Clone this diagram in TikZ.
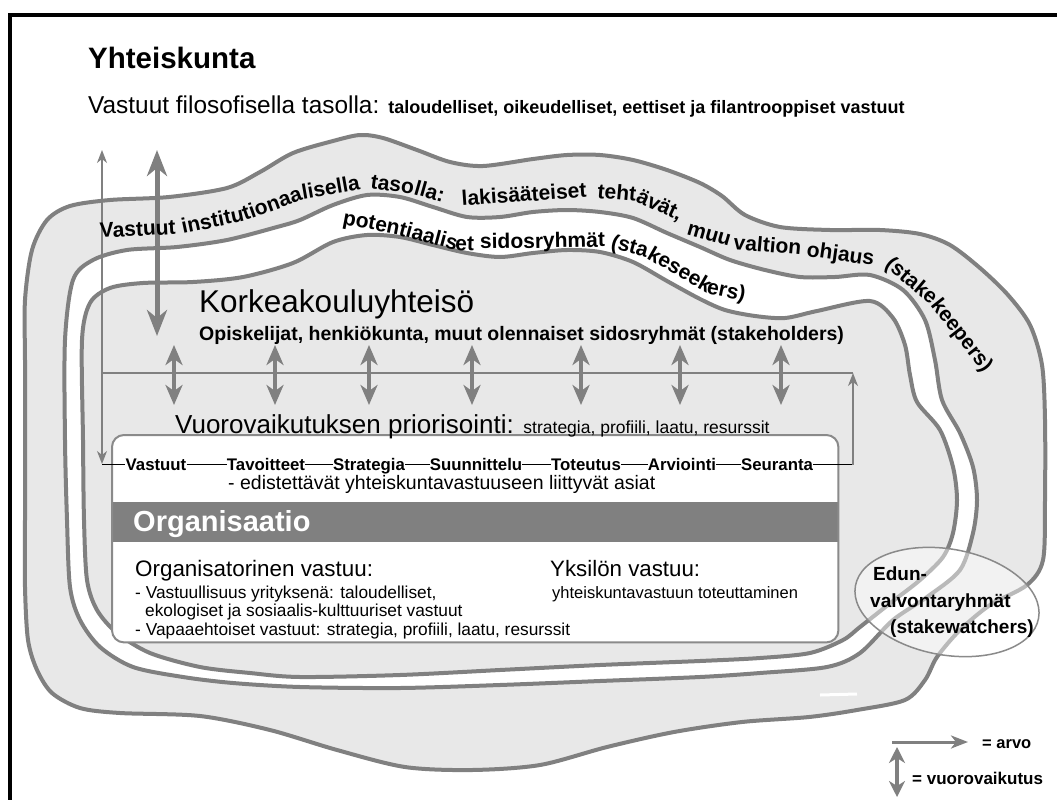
\documentclass[tikz,border=0pt]{standalone}
\usepackage{fontspec}
\setmainfont{Liberation Sans}
\usetikzlibrary{arrows.meta,shapes.geometric}
\definecolor{bandfill}{HTML}{E8E8E8}
\definecolor{linegray}{HTML}{808080}
\definecolor{boxgray}{HTML}{8A8A8A}
\definecolor{orgband}{HTML}{808080}
\newcommand\fsz[1]{\fontsize{#1}{#1}\selectfont}
\begin{document}
\begin{tikzpicture}[x=1pt, y=-1pt,
  wave/.style={draw=linegray, line width=4pt},
  txt/.style={inner sep=0pt, anchor=base west},
  curv/.style={inner sep=0pt, anchor=base west, font=\bfseries\fsz{21}},
  proc/.style={inner sep=0pt, font=\bfseries\fsz{16.8}, text height=12pt, text depth=0pt, anchor=base},
  plink/.style={draw=black, line width=0.9pt},
  thinline/.style={draw=linegray, line width=1.5pt},
  thinarrow/.style={thinline, -{Stealth[length=13pt,width=10pt,inset=4pt]}},
  dbl/.style={draw=linegray, line width=4.5pt, {Stealth[length=20pt,width=17pt,inset=6pt]}-{Stealth[length=20pt,width=17pt,inset=6pt]}},
  bigdbl/.style={draw=linegray, line width=5pt, {Stealth[length=26pt,width=20pt,inset=8pt]}-{Stealth[length=26pt,width=20pt,inset=8pt]}},
  legarrow/.style={draw=linegray, line width=3pt, -{Stealth[length=17pt,width=13pt,inset=5pt]}},
  legdbl/.style={draw=linegray, line width=4pt, {Stealth[length=16pt,width=16pt,inset=5pt]}-{Stealth[length=16pt,width=16pt,inset=5pt]}},
]
\useasboundingbox (0,0) rectangle (1057,800);
\fill[white] (0,0) rectangle (1057,800);

% frame
\draw[line width=3.5pt] (1062,15) -- (10,15) -- (10,805);

% outer band C1
\filldraw[wave, fill=bandfill] plot[smooth cycle] coordinates {
(25,300) (32,250) (47,220) (70,206) (110,200) (169,197) (227,188) (260,172) (293,153) (333,141) (360,135) (383,138) (417,150) (450,162) (483,166) (533,159) (567,155) (600,155) (633,160) (667,170) (700,183) (722,196) (745,215) (780,227) (830,230) (880,230) (920,234) (950,245) (980,268) (1008,295) (1030,325) (1042,365) (1045,420) (1045,500) (1043,560) (1027,585) (990,605) (960,630) (937,657) (925,680) (905,700) (857,710) (809,717) (742,722) (674,732) (607,747) (540,765) (472,770) (405,767) (337,750) (270,730) (200,716) (120,713) (80,708) (52,693) (37,670) (28,640) (25,587) (25,520) (25,420) (25,360)};
% white band C2
\filldraw[wave, fill=white] plot[smooth cycle] coordinates {
(65,340) (73,280) (93,260) (127,250) (177,247) (227,240) (277,227) (300,220) (333,205) (367,195) (400,197) (433,207) (467,217) (500,217) (533,212) (567,210) (600,212) (633,218) (667,233) (700,247) (730,260) (765,270) (800,277) (835,277) (870,275) (903,290) (925,320) (935,360) (942,400) (960,433) (973,467) (977,500) (973,533) (960,570) (927,597) (893,620) (860,653) (827,667) (760,673) (700,677) (600,681) (500,685) (400,688) (300,687) (233,683) (183,677) (133,667) (100,647) (80,620) (70,587) (67,520) (65,440)};
% inner region C3
\filldraw[wave, fill=bandfill] plot[smooth cycle] coordinates {
(82,340) (90,303) (110,288) (143,283) (193,282) (243,277) (293,263) (333,242) (367,235) (400,237) (433,245) (467,253) (500,257) (533,253) (567,250) (600,252) (633,262) (667,281) (700,299) (725,310) (755,316) (785,318) (817,311) (870,301) (893,318) (905,345) (910,375) (917,402) (940,430) (953,467) (957,500) (953,533) (943,557) (920,580) (893,601) (860,627) (843,640) (810,653) (760,658) (700,661) (600,665) (500,670) (400,675) (300,677) (250,673) (200,667) (150,653) (117,633) (97,610) (87,580) (84,520) (83,440)};
\draw[white, line width=3pt] (820,695) -- (857,694);

% organisation box
\node[draw=none, fill=white, rounded corners=12pt, minimum width=726pt, minimum height=207pt, anchor=north west, inner sep=0pt] (orgbox) at (112,435) {};
\node[fill=orgband, minimum width=726pt, minimum height=40pt, anchor=north west, inner sep=0pt] (orgband) at (112,502) {};
\draw[draw=boxgray, line width=2pt, rounded corners=12pt] (orgbox.north west) rectangle (orgbox.south east);

% value (arvo) flow lines
\coordinate (arvoTop) at (102,150);
\coordinate (arvoCorner) at (102,373);
\coordinate (arvoRight) at (853,373);
\coordinate (seurCorner) at (853,465);
\coordinate (vastCorner) at (102,464);

% process row
\node[proc] (p1) at (156,470) {Vastuut};
\node[proc] (p2) at (266,470) {Tavoitteet};
\node[proc] (p3) at (369,470) {Strategia};
\node[proc] (p4) at (476,470) {Suunnittelu};
\node[proc] (p5) at (586,470) {Toteutus};
\node[proc] (p6) at (682,470) {Arviointi};
\node[proc] (p7) at (777,470) {Seuranta};
\draw[plink] (vastCorner) -- (p1.west);
\draw[plink] (p1.east) -- (p2.west);
\draw[plink] (p2.east) -- (p3.west);
\draw[plink] (p3.east) -- (p4.west);
\draw[plink] (p4.east) -- (p5.west);
\draw[plink] (p5.east) -- (p6.west);
\draw[plink] (p6.east) -- (p7.west);
\draw[plink] (p7.east) -- (p7.east -| seurCorner);

\draw[thinarrow] (seurCorner) -- (arvoRight);
\draw[thinline] (arvoRight) -- (arvoCorner);
\draw[thinarrow] (arvoCorner) -- (arvoTop);
\draw[thinarrow] (arvoCorner) -- (vastCorner);

% interaction arrows
\coordinate (bigTop) at (157,150);
\coordinate (bigBot) at (157,336);
\draw[bigdbl] (bigTop) -- (bigBot);
\foreach \i/\x in {1/174,2/275,3/369,4/472,5/581,6/680,7/781}{
  \coordinate (vt\i) at (\x,345);
  \coordinate (vb\i) at (\x,405);
  \draw[dbl] (vt\i) -- (vb\i);
}

% curved band text 1
\node[curv, rotate=3]   (ta1) at (100,238) {Vastuut};
\node[curv, rotate=12]  (ta2) at (183,234) {institu};
\node[curv, rotate=20]  (ta3) at (245,221) {tionaa};
\node[curv, rotate=10]  (ta4) at (303,200) {lisella};
\node[curv, rotate=-8]  (ta5) at (370,188) {taso};
\node[curv, rotate=-16] (ta6) at (413,194) {lla:};
\node[curv, rotate=4]   (ta7) at (462,206) {lakisääteiset};
\node[curv, rotate=-5]  (ta8) at (597,198) {teht};
\node[curv, rotate=-25] (ta9) at (635,201) {ävät,};
\node[curv, rotate=-16] (ta10) at (686,234) {muu};
\node[curv, rotate=-5]  (ta11) at (733,249) {valtion};
\node[curv, rotate=-8]  (ta12) at (806,256) {ohjaus};
\node[curv, rotate=-40] (ta13) at (884,266) {(stake};
\node[curv, rotate=-52] (ta14) at (930,305) {keepers)};

% curved band text 2
\node[curv, rotate=-11] (tb1) at (342,224) {poten};
\node[curv, rotate=-15] (tb2) at (398,235) {tiaalis};
\node[curv, rotate=-2]  (tb3) at (455,250) {et};
\node[curv, rotate=1]   (tb4) at (480,249) {sidosryhmät};
\node[curv, rotate=-15] (tb5) at (610,248) {(sta};
\node[curv, rotate=-30] (tb6) at (646,258) {keseek};
\node[curv, rotate=-12] (tb7) at (706,293) {ers)};

% texts
\node[txt, font=\bfseries\fsz{29.5}] (yht) at (88,69) {Yhteiskunta};
\node[txt] (filo) at (88,113) {\fsz{24.4}Vastuut filosofisella tasolla: {\bfseries\fsz{18}taloudelliset, oikeudelliset, eettiset ja filantrooppiset vastuut}};
\node[txt, font=\fsz{31.5}] (korkea) at (199,312) {Korkeakouluyhteisö};
\node[txt, font=\bfseries\fsz{19.5}] (opis) at (199,340) {Opiskelijat, henkiökunta, muut olennaiset sidosryhmät (stakeholders)};
\node[txt] (prior) at (175,433) {\fsz{26}Vuorovaikutuksen priorisointi: {\fsz{17.5}strategia, profiili, laatu, resurssit}};
\node[txt, font=\fsz{19.5}] (edist) at (228,489) {- edistettävät yhteiskuntavastuuseen liittyvät asiat};
\node[txt, font=\bfseries\fsz{29}, text=white] (orgtitle) at (133,531) {Organisaatio};
\node[txt, font=\fsz{22.4}] (orgvast) at (135,576) {Organisatorinen vastuu:};
\node[txt, font=\fsz{17.3}] (l1) at (135,598) {- Vastuullisuus yrityksenä: taloudelliset,};
\node[txt, font=\fsz{17.3}] (l2) at (145,616) {ekologiset ja sosiaalis-kulttuuriset vastuut};
\node[txt, font=\fsz{17.3}] (l3) at (135,635) {- Vapaaehtoiset vastuut: strategia, profiili, laatu, resurssit};
\node[txt, font=\fsz{22.3}] (yksvast) at (550,576) {Yksilön vastuu:};
\node[txt, font=\fsz{16.5}] (yksteksti) at (552,598) {yhteiskuntavastuun toteuttaminen};

% stakewatchers ellipse
\node[ellipse, draw=boxgray, line width=1.5pt, fill=white, fill opacity=0.45, draw opacity=1, minimum width=186pt, minimum height=106pt, rotate=-10] (edunEll) at (947,602) {};
\node[txt, font=\bfseries\fsz{19}] (edun1) at (873,580) {Edun-};
\node[txt, font=\bfseries\fsz{19}] (edun2) at (870,607) {valvontaryhmät};
\node[txt, font=\bfseries\fsz{19}] (edun3) at (890,633) {(stakewatchers)};

% legend
\coordinate (legA1) at (892,742);
\coordinate (legA2) at (968,742);
\draw[legarrow] (legA1) -- (legA2);
\node[txt, font=\bfseries\fsz{16.5}] (legArvo) at (982,748) {= arvo};
\coordinate (legD1) at (897,747);
\coordinate (legD2) at (897,797);
\draw[legdbl] (legD1) -- (legD2);
\node[txt, font=\bfseries\fsz{17}] (legVuoro) at (912,784) {= vuorovaikutus};
\end{tikzpicture}
\end{document}
